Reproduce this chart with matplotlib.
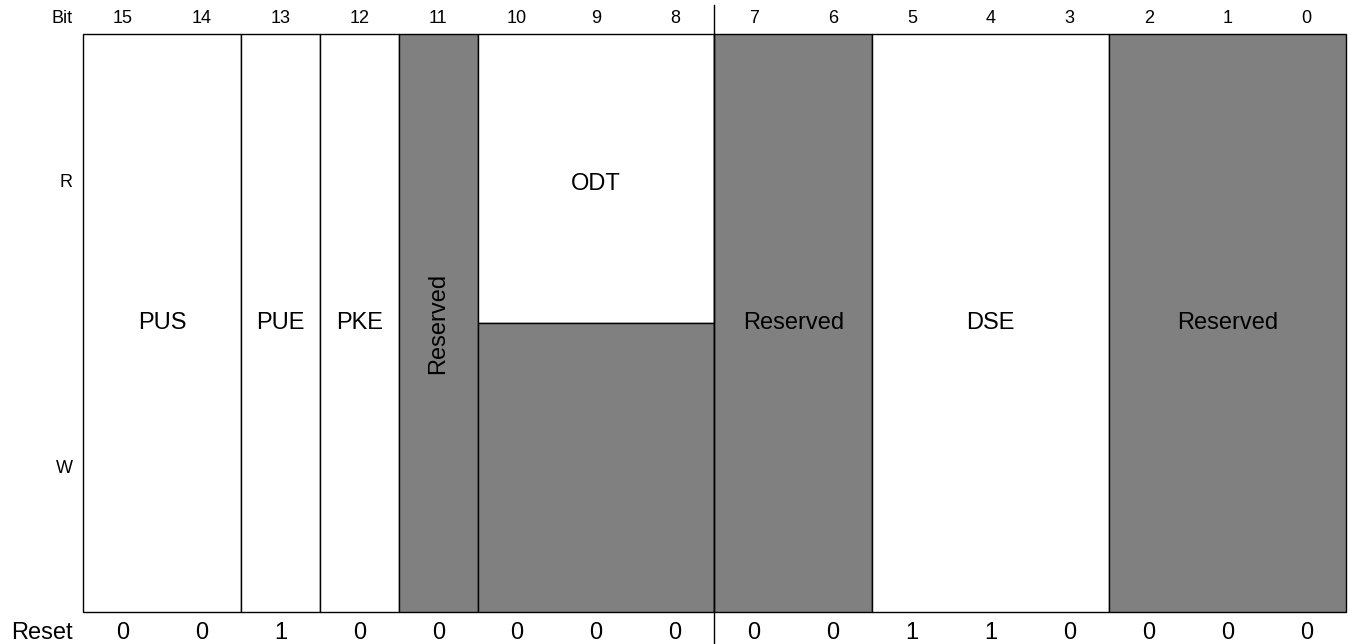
import matplotlib.pyplot as plt

# register layout, msb first
field_names = ["PUS", "PUE", "PKE", "Reserved", "ODT", "Reserved", "DSE", "Reserved"]
field_msb = [15, 13, 12, 11, 10, 7, 5, 2]
field_lsb = [14, 13, 12, 11, 8, 6, 3, 0]
field_kind = ["rw", "rw", "rw", "res", "ro", "res", "rw", "res"]
bits = list(range(15, -1, -1))
reset_vals = [0, 0, 1, 0, 0, 0, 0, 0, 0, 0, 1, 1, 0, 0, 0, 0]

gray = "#808080"
plt.rcParams['font.family'] = ['Liberation Sans', 'DejaVu Sans']

fig = plt.figure(figsize=(13.5, 6.44), dpi=100)
ax = fig.add_axes([0, 0, 1, 1])
px = 78.94
ax.set_xlim(-83 / px, 16 + 4 / px)
ax.set_ylim(1 + 32 / 578, -34 / 578)
ax.axis("off")

for name, msb, lsb, kind in zip(field_names, field_msb, field_lsb, field_kind):
    left = 15 - msb
    w = msb - lsb + 1
    if kind == "ro":
        ax.bar(left, 0.5, width=w, bottom=0, align="edge", color="white",
               edgecolor="black", lw=1.0)
        ax.bar(left, 0.5, width=w, bottom=0.5, align="edge", color=gray,
               edgecolor="black", lw=1.0)
        ax.text(left + w / 2, 0.26, name, ha="center", va="center", fontsize=17)
    else:
        fc = gray if kind == "res" else "white"
        ax.bar(left, 1, width=w, bottom=0, align="edge", color=fc,
               edgecolor="black", lw=1.0)
        rot = 90 if (kind == "res" and w == 1) else 0
        ax.text(left + w / 2, 0.5, name, ha="center", va="center",
                fontsize=17, rotation=rot)

for i, (b, r) in enumerate(zip(bits, reset_vals)):
    ax.text(i + 0.5, -0.027, str(b), ha="center", va="center", fontsize=13)
    ax.text(i + 0.5, 1.037, str(r), ha="center", va="center", fontsize=17)

lx = -10 / px
ax.text(lx, -0.027, "Bit", ha="right", va="center", fontsize=13)
ax.text(lx, 0.257, "R", ha="right", va="center", fontsize=13)
ax.text(lx, 0.751, "W", ha="right", va="center", fontsize=13)
ax.text(lx, 1.037, "Reset", ha="right", va="center", fontsize=17)

ax.axvline(8, ymin=0, ymax=0.992, color="black", lw=1.0)

fig.savefig("out.png", dpi=100)
